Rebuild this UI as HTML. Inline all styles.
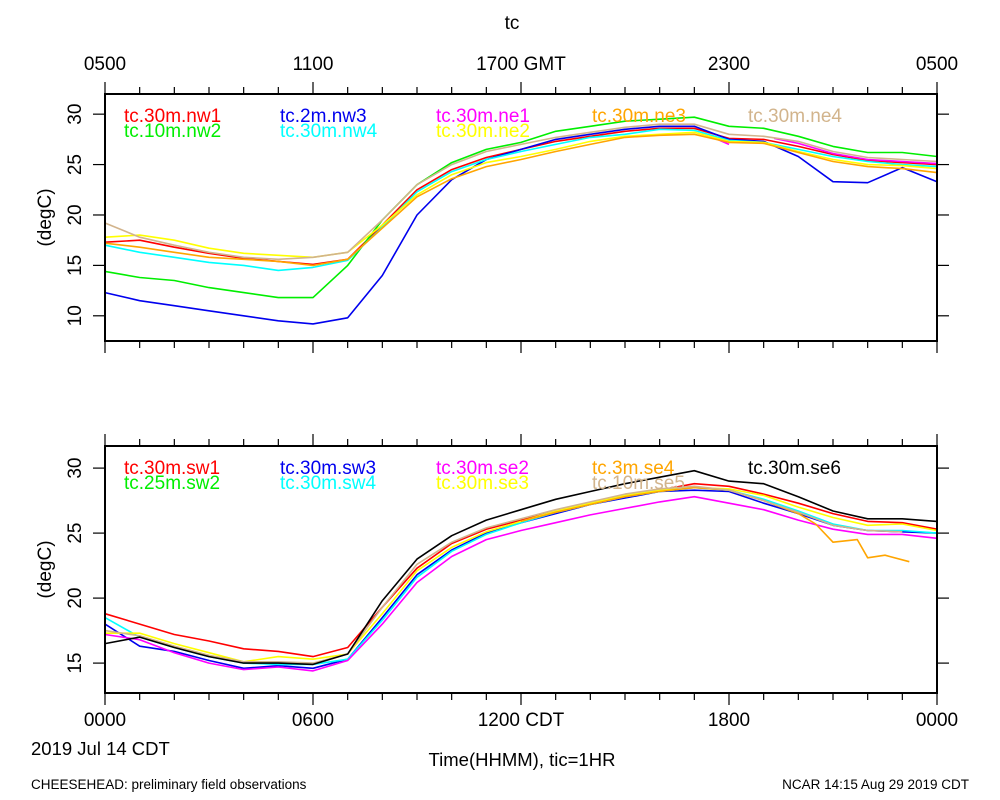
<!DOCTYPE html>
<html><head><meta charset="utf-8">
<style>
body{margin:0;background:#fff;}
svg{display:block;font-family:"Liberation Sans",sans-serif;}
</style></head>
<body>
<svg id="chart" width="1000" height="800" viewBox="0 0 1000 800">
<text x="512" y="29" font-size="19" text-anchor="middle">tc</text>
<g id="top"></g>
<g id="bot"></g>
<text x="31" y="755" font-size="18.5">2019 Jul 14 CDT</text>
<text x="522" y="766" font-size="18.5" text-anchor="middle">Time(HHMM), tic=1HR</text>
<text x="31" y="789" font-size="13.5">CHEESEHEAD: preliminary field observations</text>
<text x="969" y="789" font-size="13.5" text-anchor="end">NCAR 14:15 Aug 29 2019 CDT</text>
</svg>
<script>
const hours = [0,1,2,3,4,5,6,7,8,9,10,11,12,13,14,15,16,17,18,19,20,21,22,23,24];
const topTickLabels = ["0500","1100","1700 GMT","2300","0500"];
const botTickLabels = ["0000","0600","1200 CDT","1800","0000"];
const topYTicks = [10,15,20,25,30];
const botYTicks = [15,20,25,30];

const nw1 = [17.3,17.5,16.8,16.2,15.7,15.4,15.1,15.6,19,22.5,24.5,25.7,26.5,27.3,27.8,28.3,28.6,28.6,27.6,27.5,26.8,26,25.4,25.2,25];
const nw2 = [14.4,13.8,13.5,12.8,12.3,11.8,11.8,15,19.5,23,25.2,26.5,27.2,28.3,28.8,29.3,29.5,29.7,28.8,28.6,27.8,26.8,26.2,26.2,25.8];
const nw3 = [12.3,11.5,11,10.5,10,9.5,9.2,9.8,14,20,23.5,25.5,26.5,27.5,28,28.5,28.8,28.8,27.5,27.3,25.8,23.3,23.2,24.7,23.3];
const nw4 = [17,16.3,15.8,15.3,15,14.5,14.8,15.5,18.8,22.3,24.3,25.5,26.3,27,27.7,28,28.5,28.4,27.4,27.2,26.5,25.8,25.3,25,24.8];
const ne1Hours = [17.6,18.0,18.5,19.3,20,21,22,23,24];
const ne1 = [27.6,27.0,null,27.6,27.1,26.1,25.5,25.3,25.1];
const ne2 = [17.8,18,17.5,16.7,16.2,16,15.8,16.3,19,22,24,25.2,25.8,26.5,27.3,27.8,28,28.2,27.3,27.2,26.3,25.5,25,24.9,24.6];
const ne3 = [17.2,16.8,16.3,15.8,15.6,15.4,15,15.6,18.7,21.8,23.6,24.8,25.5,26.3,27,27.7,27.9,28,27.2,27.1,26.2,25.3,24.8,24.6,24.2];
const ne4 = [19.2,17.8,17,16.3,15.8,15.6,15.8,16.3,19.5,23,25,26.3,27,27.7,28.2,28.7,29,29,28,27.8,27.3,26.3,25.7,25.5,25.3];

const sw1 = [18.8,18,17.2,16.7,16.1,15.9,15.5,16.2,19.3,22.3,24.2,25.3,26,26.7,27.3,27.8,28.3,28.8,28.6,28,27.3,26.5,25.9,25.8,25.3];
const sw2 = [];
const sw3 = [18,16.3,15.9,15.2,14.6,14.8,14.6,15.3,18.5,21.8,23.7,25,25.8,26.5,27.2,27.7,28.2,28.3,28.2,27.3,26.5,25.6,25.2,25.1,25];
const sw4 = [18.5,17,16.2,15.5,15,14.9,14.9,15.3,18.3,21.6,23.6,24.9,25.8,26.6,27.2,27.8,28.2,28.5,28.3,27.6,26.7,25.7,25.2,25.2,25];
const se2 = [17.2,16.8,15.8,15,14.5,14.7,14.4,15.2,18,21.2,23.2,24.5,25.2,25.8,26.4,26.9,27.4,27.8,27.3,26.8,26,25.3,24.9,24.9,24.6];
const se3 = [17.3,17.3,16.5,15.8,15.1,15.5,15.3,15.7,18.8,22.1,23.9,25.1,25.9,26.7,27.3,27.9,28.3,28.5,28.4,27.9,27,26.2,25.6,25.7,25.2];
const se4Hours = [12,13,14,15,16,17,18,19,20,20.5,21,21.7,22,22.5,23.2];
const se4 = [25.9,26.6,27.2,27.8,28.2,28.5,28.3,27.5,26.5,25.7,24.3,24.5,23.1,23.3,22.8];
const se5 = [17.5,17.1,16.3,15.6,15.1,15.1,15,15.7,19.3,22.6,24.3,25.4,26.1,26.8,27.4,28,28.4,28.6,28.3,27.5,26.6,25.6,25.2,25.1];
const se6 = [16.5,17,16.2,15.5,15,15,14.9,15.7,19.8,23,24.8,26,26.8,27.6,28.2,28.8,29.3,29.8,29,28.8,27.8,26.7,26.1,26.1,25.9];

const NS="http://www.w3.org/2000/svg";
function mk(parent,tag,attrs){const e=document.createElementNS(NS,tag);for(const k in attrs)e.setAttribute(k,attrs[k]);parent.appendChild(e);return e;}

function panel(g,cfg){
  const x0=105,x1=937,y0=cfg.top,y1=cfg.bottom;
  const xs=h=>x0+(h/24)*(x1-x0);
  const ys=v=>y1-(v-cfg.ymin)/(cfg.ymax-cfg.ymin)*(y1-y0);
  cfg.series.forEach(s=>{
    let d="",pen=false;
    s.vals.forEach((v,i)=>{
      if(v===null||v===undefined){pen=false;return;}
      d+=(pen?"L":"M")+xs(s.hrs[i]).toFixed(1)+" "+ys(v).toFixed(1);pen=true;
    });
    if(!d)return;
    const p=mk(g,"path",{d:d,fill:"none",stroke:s.color,"stroke-width":1.6,"stroke-linejoin":"round"});
    
    
  });
  const f=mk(g,"rect",{x:x0,y:y0,width:x1-x0,height:y1-y0,fill:"none",stroke:"#000","stroke-width":2});
  
  
  for(let h=0;h<=24;h++){
    const maj=h%6===0, len=maj?12:7, x=xs(h);
    const t1=mk(g,"line",{x1:x,x2:x,y1:y0,y2:y0-len,stroke:"#000","stroke-width":1.2});
    
    
    const t2=mk(g,"line",{x1:x,x2:x,y1:y1,y2:y1+len,stroke:"#000","stroke-width":1.2});
    
    
  }
  cfg.xlabels.forEach((lb,i)=>{
    const t=mk(g,"text",{x:xs(i*6),y:cfg.xlabelY,"font-size":19,"text-anchor":"middle"});
    t.textContent=lb;
    
    
  });
  cfg.yticks.forEach(v=>{
    const y=ys(v);
    const a=mk(g,"line",{x1:x0,x2:x0-12,y1:y,y2:y,stroke:"#000","stroke-width":1.2});
    
    
    const b=mk(g,"line",{x1:x1,x2:x1+12,y1:y,y2:y,stroke:"#000","stroke-width":1.2});
    
    
    const t=mk(g,"text",{x:0,y:0,"font-size":19,"text-anchor":"middle",transform:"translate(81,"+y+") rotate(-90)"});
    t.textContent=v;
    
    
  });
  const yt=mk(g,"text",{x:0,y:0,"font-size":19,"text-anchor":"middle",transform:"translate(51,"+((y0+y1)/2)+") rotate(-90)"});
  yt.textContent="(degC)";
  
  
  cfg.series.forEach(s=>{
    const t=mk(g,"text",{x:124+s.col*156,y:y0+28+s.row*15,"font-size":19,fill:s.color});
    t.textContent=s.label;
    
    
  });
}

panel(document.getElementById("top"),{top:94,bottom:341,ymin:7.5,ymax:32,yticks:topYTicks,xlabels:topTickLabels,xlabelY:70,
  series:[
    {name:"nw1",label:"tc.30m.nw1",color:"#ff0000",hrs:hours,vals:nw1,col:0,row:0},
    {name:"nw2",label:"tc.10m.nw2",color:"#00ee00",hrs:hours,vals:nw2,col:0,row:1},
    {name:"nw3",label:"tc.2m.nw3",color:"#0000ee",hrs:hours,vals:nw3,col:1,row:0},
    {name:"nw4",label:"tc.30m.nw4",color:"#00ffff",hrs:hours,vals:nw4,col:1,row:1},
    {name:"ne1",label:"tc.30m.ne1",color:"#ff00ff",hrs:ne1Hours,vals:ne1,col:2,row:0},
    {name:"ne2",label:"tc.30m.ne2",color:"#ffff00",hrs:hours,vals:ne2,col:2,row:1},
    {name:"ne3",label:"tc.30m.ne3",color:"#ffa500",hrs:hours,vals:ne3,col:3,row:0},
    {name:"ne4",label:"tc.30m.ne4",color:"#d2b48c",hrs:hours,vals:ne4,col:4,row:0}
  ]});
panel(document.getElementById("bot"),{top:446,bottom:693,ymin:12.7,ymax:31.7,yticks:botYTicks,xlabels:botTickLabels,xlabelY:726,
  series:[
    {name:"sw1",label:"tc.30m.sw1",color:"#ff0000",hrs:hours,vals:sw1,col:0,row:0},
    {name:"sw2",label:"tc.25m.sw2",color:"#00ee00",hrs:hours,vals:sw2,col:0,row:1},
    {name:"sw3",label:"tc.30m.sw3",color:"#0000ee",hrs:hours,vals:sw3,col:1,row:0},
    {name:"sw4",label:"tc.30m.sw4",color:"#00ffff",hrs:hours,vals:sw4,col:1,row:1},
    {name:"se2",label:"tc.30m.se2",color:"#ff00ff",hrs:hours,vals:se2,col:2,row:0},
    {name:"se3",label:"tc.30m.se3",color:"#ffff00",hrs:hours,vals:se3,col:2,row:1},
    {name:"se4",label:"tc.3m.se4",color:"#ffa500",hrs:se4Hours,vals:se4,col:3,row:0},
    {name:"se5",label:"tc.10m.se5",color:"#d2b48c",hrs:hours,vals:se5,col:3,row:1},
    {name:"se6",label:"tc.30m.se6",color:"#000000",hrs:hours,vals:se6,col:4,row:0}
  ]});
</script>
</body></html>
